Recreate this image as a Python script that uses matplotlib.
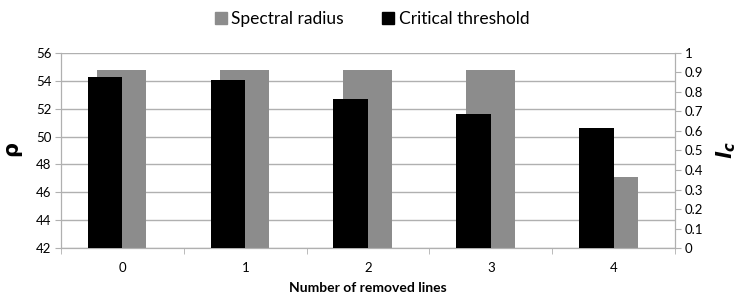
import matplotlib.pyplot as plt
from matplotlib.patches import Patch
import numpy as np

plt.rcParams['font.family'] = ['Lato', 'DejaVu Sans']

# data
categories = ['0', '1', '2', '3', '4']
spectral_radius = [54.75, 54.75, 54.75, 54.75, 47.1]
critical_threshold = [0.877, 0.862, 0.764, 0.686, 0.614]

cinza = '#8c8c8c'
linha = '#b0b0b0'

fig = plt.figure(figsize=(7.4, 3.04), dpi=100)
ax = fig.add_axes([0.0824, 0.184, 0.830, 0.642])
ax2 = ax.twinx()

x = np.arange(len(categories))

# barras cinzentas no eixo da esquerda, pretas no da direita (por cima)
ax.bar(x - 0.005, spectral_radius, width=0.4, color=cinza, zorder=2)
ax2.bar(x - 0.142, critical_threshold, width=0.28, color='black', zorder=3)

ax.set_xlim(-0.5, len(categories) - 0.5)
ax.set_ylim(42, 56)
ax.set_yticks(range(42, 57, 2))
ax2.set_ylim(0, 1)
ax2.set_yticks(np.arange(0, 1.01, 0.1))
ax2.set_yticklabels(['0', '0.1', '0.2', '0.3', '0.4', '0.5', '0.6', '0.7', '0.8', '0.9', '1'])

ax.yaxis.grid(True, color=linha, linewidth=1)
ax.set_axisbelow(True)

ax.set_xticks(x)
ax.set_xticklabels(categories)
ax.set_xticks(np.arange(-0.5, len(categories), 1), minor=True)
ax.tick_params(axis='x', which='major', length=0, pad=10, labelsize=9.5)
ax.tick_params(axis='x', which='minor', length=4, color=linha, direction='out')
ax.tick_params(axis='y', length=4, color=linha, labelsize=9.5, pad=3)
ax2.tick_params(axis='y', length=4, color=linha, labelsize=9.5, pad=3)

for a in (ax, ax2):
    a.spines['top'].set_visible(False)
    for s in ('left', 'right', 'bottom'):
        a.spines[s].set_color(linha)

ax.set_xlabel('Number of removed lines', fontweight='bold', fontsize=10, labelpad=6)
ax.set_ylabel(r'$\mathbf{\rho}$', fontsize=15, labelpad=8)
ax2.set_ylabel(r'$\mathbfit{l_c}$', fontsize=15, rotation=90, labelpad=8)

handles = [Patch(color=cinza, label='Spectral radius'),
           Patch(color='black', label='Critical threshold')]
fig.legend(handles=handles, loc='upper center', bbox_to_anchor=(0.503, 1.015), ncol=2,
           frameon=False, fontsize=12.5, handlelength=0.7, handleheight=0.7,
           handletextpad=0.25, columnspacing=2.2)

fig.savefig('out.png', dpi=100)
